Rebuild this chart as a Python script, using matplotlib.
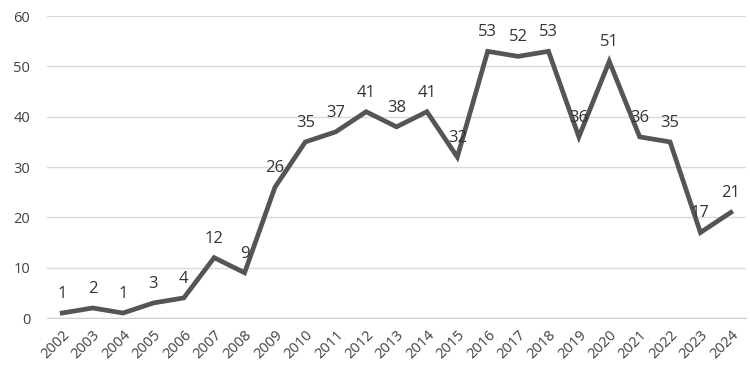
import matplotlib
matplotlib.use("Agg")
import matplotlib.pyplot as plt

years = [str(y) for y in range(2002, 2025)]
counts = [1, 2, 1, 3, 4, 12, 9, 26, 35, 37, 41, 38, 41, 32, 53, 52, 53, 36, 51, 36, 35, 17, 21]
yticks = [0, 10, 20, 30, 40, 50, 60]

plt.rcParams['font.family'] = ['Open Sans', 'DejaVu Sans']

fig = plt.figure(figsize=(7.5, 3.66), dpi=100)
ax = fig.add_axes([0.0627, 0.131, 0.932, 0.825])
x = list(range(len(years)))
ax.plot(x, counts, color='#555555', linewidth=3.4, solid_joinstyle='miter', zorder=3)
for xi, v in zip(x, counts):
    ax.annotate(str(v), (xi, v), xytext=(0, 8), textcoords='offset points',
                ha='center', va='bottom', fontsize=12, color='#333333', zorder=4)

ax.set_xlim(-0.5, len(years) - 0.5)
ax.set_ylim(0, 60)
ax.set_yticks(yticks)
ax.set_xticks(x)
ax.set_xticklabels(years, rotation=45, ha='right', rotation_mode='anchor')
ax.tick_params(axis='both', length=0, labelsize=10.5, labelcolor='#404040')
ax.tick_params(axis='x', pad=7)
ax.tick_params(axis='y', pad=12)
ax.grid(axis='y', color='#d9d9d9', linewidth=1)
ax.set_axisbelow(True)
for s in ['top', 'right', 'left']:
    ax.spines[s].set_visible(False)
ax.spines['bottom'].set_color('#d0d0d0')

fig.savefig('out.png', dpi=100)
